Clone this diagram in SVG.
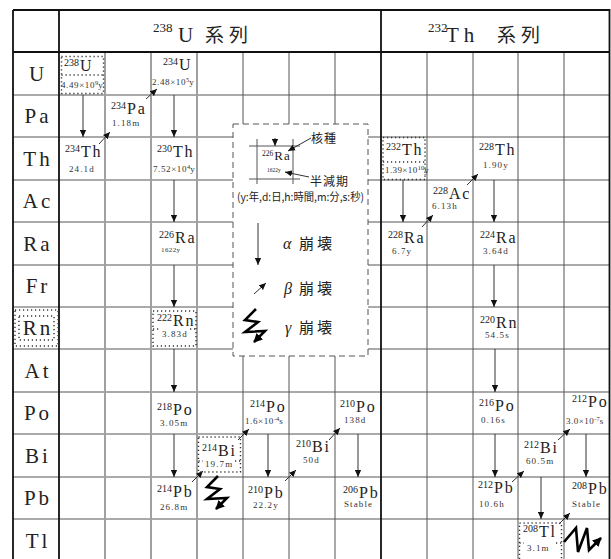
<svg xmlns="http://www.w3.org/2000/svg" width="611" height="559" viewBox="0 0 611 559">
<style>
text{font-family:"Liberation Serif","Noto Sans CJK JP",serif;fill:#222}
.cjk{font-family:"Noto Sans CJK JP","Noto Sans CJK SC",sans-serif}
.g1{stroke:#555;stroke-width:1;fill:none}
.g2{stroke:#a0a0a0;stroke-width:2;fill:none}
.bd{stroke:#111;stroke-width:1.8;fill:none}
.lab{font-size:21px;letter-spacing:3px;text-anchor:middle}
.nu{font-size:16px;letter-spacing:1.8px}
.ms{font-size:10px;letter-spacing:0}
.hl{font-size:9px;letter-spacing:1.1px;fill:#333}
.ex{font-size:6.5px;letter-spacing:0}
.dot{fill:none;stroke:#333;stroke-width:1.4;stroke-dasharray:1.2 2.8}
.ar{stroke:#333;stroke-width:1;fill:none;marker-end:url(#ah)}
.gm{stroke:#000;stroke-width:2.6;fill:none;stroke-linejoin:miter}
</style>
<defs>
<marker id="ah" viewBox="0 0 10 10" refX="10" refY="5" markerWidth="7" markerHeight="7" markerUnits="userSpaceOnUse" orient="auto"><path d="M0,0.5 L10,5 L0,9.5 z" fill="#111"/></marker>
<marker id="ahg" viewBox="0 0 10 10" refX="9" refY="5" markerWidth="9" markerHeight="9" markerUnits="userSpaceOnUse" orient="auto"><path d="M0,0 L10,5 L0,10 z" fill="#000"/></marker>
<g id="bolt"><polyline class="gm" points="11,0 0,11 13,13 0,23 20,22 9,33" marker-end="url(#ahg)"/></g>
</defs>
<rect width="611" height="559" fill="#fff"/>
<g id="grid">
<path class="g1" d="M59,95H609M59,137H609M59,180H609M59,222H609M59,265H609M59,307H609M59,349H609M59,392H609M59,434H609M59,477H609M59,519H609"/>
<path class="g1" d="M13,95H59M13,137H59M13,180H59M13,222H59M13,265H59M13,307H59M13,349H59M13,392H59M13,434H59M13,477H59M13,519H59"/>
<path class="g1" d="M243,52V562M289,52V562M335,52V562M427,52V562M473,52V562M518,52V562M564,52V562"/>
<path class="g2" d="M105,52V562M151,52V562M197,52V562"/>
<path class="bd" d="M13,10H609.5V562M13,10V562M59,10V562M381,10V562M13,52H609.5"/>
</g>
<g id="header">
<text x="153" y="32" style="font-size:13px">238</text>
<text x="178" y="42" style="font-size:21px">U</text>
<text x="205" y="42" class="cjk" style="font-size:19px;letter-spacing:5px">系列</text>
<text x="428" y="32" style="font-size:13px">232</text>
<text x="446" y="42" style="font-size:21px;letter-spacing:5px">Th</text>
<text x="497" y="42" class="cjk" style="font-size:19px;letter-spacing:5px">系列</text>
</g>
<g id="labels">
<text class="lab" x="38" y="81">U</text>
<text class="lab" x="38" y="123">Pa</text>
<text class="lab" x="38" y="166">Th</text>
<text class="lab" x="38" y="208">Ac</text>
<text class="lab" x="38" y="251">Ra</text>
<text class="lab" x="38" y="293">Fr</text>
<text class="lab" x="38" y="335">Rn</text>
<text class="lab" x="38" y="378">At</text>
<text class="lab" x="38" y="420">Po</text>
<text class="lab" x="38" y="463">Bi</text>
<text class="lab" x="38" y="505">Pb</text>
<text class="lab" x="38" y="548">Tl</text>
<rect class="dot" x="15" y="310" width="43" height="36"/>
<rect class="dot" x="19" y="316" width="35" height="24"/>
</g>
<g id="legend">
<rect x="233" y="124" width="135" height="232" fill="#fff" stroke="#555" stroke-width="1" stroke-dasharray="6 4"/>
<path class="g1" d="M249,146H300M249,179H300M257,139V184M293,139V184"/>
<line class="ar" x1="275" y1="138" x2="275" y2="146"/>
<text x="262" y="160"><tspan style="font-size:7.5px" dy="-4">226</tspan><tspan style="font-size:13px;letter-spacing:1px" dy="4" dx="1">Ra</tspan></text>
<text x="267" y="172" style="font-size:5.5px">1622y</text>
<text x="311" y="143" class="cjk" style="font-size:12px;letter-spacing:1px">核種</text>
<line class="ar" x1="311" y1="138" x2="288" y2="151"/>
<text x="310" y="186" class="cjk" style="font-size:12px;letter-spacing:1px">半減期</text>
<line class="ar" x1="309" y1="177" x2="285" y2="172"/>
<text x="237" y="201" class="cjk" style="font-size:11px" textLength="127" lengthAdjust="spacingAndGlyphs">(y:年,d:日,h:時間,m:分,s:秒)</text>
<line class="ar" x1="258" y1="223" x2="258" y2="265"/>
<text x="283" y="249" style="font-size:16px;font-style:italic">α</text>
<text x="299" y="249" class="cjk" style="font-size:15px;letter-spacing:3px">崩壊</text>
<line class="ar" x1="254" y1="294" x2="266" y2="283"/>
<text x="284" y="294" style="font-size:16px;font-style:italic">β</text>
<text x="299" y="294" class="cjk" style="font-size:15px;letter-spacing:3px">崩壊</text>
<use href="#bolt" x="245" y="309"/>
<text x="285" y="333" style="font-size:16px;font-style:italic">γ</text>
<text x="299" y="333" class="cjk" style="font-size:15px;letter-spacing:3px">崩壊</text>
</g>
<g id="connectors">
<line class="ar" x1="83" y1="95" x2="83" y2="137"/>
<line class="ar" x1="99" y1="144" x2="110" y2="132"/>
<line class="ar" x1="146" y1="99" x2="157" y2="89"/>
<line class="ar" x1="174" y1="95" x2="174" y2="137"/>
<line class="ar" x1="174" y1="180" x2="174" y2="222"/>
<line class="ar" x1="174" y1="265" x2="174" y2="307"/>
<line class="ar" x1="174" y1="349" x2="174" y2="392"/>
<line class="ar" x1="174" y1="434" x2="174" y2="477"/>
<line class="ar" x1="192" y1="482" x2="203" y2="471"/>
<line class="ar" x1="238" y1="440" x2="249" y2="429"/>
<line class="ar" x1="268" y1="434" x2="268" y2="477"/>
<line class="ar" x1="285" y1="481" x2="296" y2="470"/>
<line class="ar" x1="329" y1="440" x2="340" y2="428"/>
<line class="ar" x1="358" y1="434" x2="358" y2="477"/>
<line class="ar" x1="403" y1="180" x2="403" y2="222"/>
<line class="ar" x1="422" y1="227" x2="433" y2="215"/>
<line class="ar" x1="467" y1="185" x2="478" y2="174"/>
<line class="ar" x1="494" y1="180" x2="494" y2="222"/>
<line class="ar" x1="494" y1="265" x2="494" y2="307"/>
<line class="ar" x1="495" y1="349" x2="495" y2="392"/>
<line class="ar" x1="495" y1="434" x2="495" y2="477"/>
<line class="ar" x1="512" y1="482" x2="524" y2="471"/>
<line class="ar" x1="558" y1="440" x2="570" y2="429"/>
<line class="ar" x1="541" y1="477" x2="541" y2="519"/>
<line class="ar" x1="586" y1="434" x2="586" y2="477"/>
<line class="ar" x1="559" y1="524" x2="570" y2="513"/>
</g>
<g id="n-238U"><rect class="dot" x="61.5" y="56.5" width="42" height="37"/><line class="dot" x1="61.5" y1="75" x2="103.5" y2="75"/>
<text class="nu" x="64" y="71"><tspan class="ms" dy="-5">238</tspan><tspan dy="5" dx="1">U</tspan></text>
<text class="hl" x="61" y="88" style="letter-spacing:0.6px">4.49×10<tspan class="ex" dy="-3">9</tspan><tspan dy="3">y</tspan></text></g>
<g id="n-234U"><text class="nu" x="163" y="70"><tspan class="ms" dy="-5">234</tspan><tspan dy="5" dx="1">U</tspan></text>
<text class="hl" x="152" y="85" style="letter-spacing:0.6px">2.48×10<tspan class="ex" dy="-3">5</tspan><tspan dy="3">y</tspan></text></g>
<g id="n-234Pa"><text class="nu" x="111" y="114"><tspan class="ms" dy="-5">234</tspan><tspan dy="5" dx="1">Pa</tspan></text>
<text class="hl" x="112" y="126">1.18m</text></g>
<g id="n-234Th"><text class="nu" x="65" y="157"><tspan class="ms" dy="-5">234</tspan><tspan dy="5" dx="1">Th</tspan></text>
<text class="hl" x="69" y="172">24.1d</text></g>
<g id="n-230Th"><text class="nu" x="157" y="157"><tspan class="ms" dy="-5">230</tspan><tspan dy="5" dx="1">Th</tspan></text>
<text class="hl" x="153" y="172" style="letter-spacing:0.6px">7.52×10<tspan class="ex" dy="-3">4</tspan><tspan dy="3">y</tspan></text></g>
<g id="n-226Ra"><text class="nu" x="159" y="243"><tspan class="ms" dy="-5">226</tspan><tspan dy="5" dx="1">Ra</tspan></text>
<text class="hl" x="161" y="252" style="font-size:7px;letter-spacing:0.4px">1622y</text></g>
<g id="n-222Rn"><rect class="dot" x="153" y="311" width="43" height="35"/><path class="dot" d="M153,329H159M190,329H196"/>
<text class="nu" x="157" y="326"><tspan class="ms" dy="-5">222</tspan><tspan dy="5" dx="1">Rn</tspan></text>
<text class="hl" x="162" y="337">3.83d</text></g>
<g id="n-218Po"><text class="nu" x="157" y="415"><tspan class="ms" dy="-5">218</tspan><tspan dy="5" dx="1">Po</tspan></text>
<text class="hl" x="160" y="426">3.05m</text></g>
<g id="n-214Pb"><text class="nu" x="157" y="497"><tspan class="ms" dy="-5">214</tspan><tspan dy="5" dx="1">Pb</tspan></text>
<text class="hl" x="160" y="510">26.8m</text></g>
<g id="n-214Bi"><rect class="dot" x="198.5" y="437" width="42" height="35"/><path class="dot" d="M198.5,461H203M235,461H240.5"/>
<text class="nu" x="202" y="456"><tspan class="ms" dy="-5">214</tspan><tspan dy="5" dx="1">Bi</tspan></text>
<text class="hl" x="205" y="467">19.7m</text>
<use href="#bolt" x="207" y="476"/></g>
<g id="n-214Po"><text class="nu" x="250" y="412"><tspan class="ms" dy="-5">214</tspan><tspan dy="5" dx="1">Po</tspan></text>
<text class="hl" x="245" y="424" style="letter-spacing:0.6px">1.6×10<tspan class="ex" dy="-3">-4</tspan><tspan dy="3">s</tspan></text></g>
<g id="n-210Pb"><text class="nu" x="248" y="498"><tspan class="ms" dy="-5">210</tspan><tspan dy="5" dx="1">Pb</tspan></text>
<text class="hl" x="253" y="508">22.2y</text></g>
<g id="n-210Bi"><text class="nu" x="296" y="452"><tspan class="ms" dy="-5">210</tspan><tspan dy="5" dx="1">Bi</tspan></text>
<text class="hl" x="303" y="463">50d</text></g>
<g id="n-210Po"><text class="nu" x="340" y="412"><tspan class="ms" dy="-5">210</tspan><tspan dy="5" dx="1">Po</tspan></text>
<text class="hl" x="344" y="423">138d</text></g>
<g id="n-206Pb"><text class="nu" x="343" y="498"><tspan class="ms" dy="-5">206</tspan><tspan dy="5" dx="1">Pb</tspan></text>
<text class="hl" x="344" y="507">Stable</text></g>
<g id="n-232Th"><rect class="dot" x="383" y="137.5" width="42" height="42"/><line class="dot" x1="383" y1="162" x2="425" y2="162"/>
<text class="nu" x="386" y="155"><tspan class="ms" dy="-5">232</tspan><tspan dy="5" dx="1">Th</tspan></text>
<text class="hl" x="385" y="173" style="letter-spacing:0.4px">1.39×10<tspan class="ex" dy="-3">10</tspan><tspan dy="3">y</tspan></text></g>
<g id="n-228Th"><text class="nu" x="479" y="155"><tspan class="ms" dy="-5">228</tspan><tspan dy="5" dx="1">Th</tspan></text>
<text class="hl" x="483" y="168">1.90y</text></g>
<g id="n-228Ac"><text class="nu" x="433" y="199"><tspan class="ms" dy="-5">228</tspan><tspan dy="5" dx="1">Ac</tspan></text>
<text class="hl" x="432" y="209">6.13h</text></g>
<g id="n-228Ra"><text class="nu" x="388" y="243"><tspan class="ms" dy="-5">228</tspan><tspan dy="5" dx="1">Ra</tspan></text>
<text class="hl" x="392" y="254">6.7y</text></g>
<g id="n-224Ra"><text class="nu" x="480" y="243"><tspan class="ms" dy="-5">224</tspan><tspan dy="5" dx="1">Ra</tspan></text>
<text class="hl" x="483" y="254">3.64d</text></g>
<g id="n-220Rn"><text class="nu" x="480" y="328"><tspan class="ms" dy="-5">220</tspan><tspan dy="5" dx="1">Rn</tspan></text>
<text class="hl" x="485" y="338">54.5s</text></g>
<g id="n-216Po"><text class="nu" x="479" y="411"><tspan class="ms" dy="-5">216</tspan><tspan dy="5" dx="1">Po</tspan></text>
<text class="hl" x="481" y="423">0.16s</text></g>
<g id="n-212Pb"><text class="nu" x="478" y="493"><tspan class="ms" dy="-5">212</tspan><tspan dy="5" dx="1">Pb</tspan></text>
<text class="hl" x="479" y="507">10.6h</text></g>
<g id="n-212Bi"><text class="nu" x="524" y="453"><tspan class="ms" dy="-5">212</tspan><tspan dy="5" dx="1">Bi</tspan></text>
<text class="hl" x="526" y="464">60.5m</text></g>
<g id="n-212Po"><text class="nu" x="572" y="407"><tspan class="ms" dy="-5">212</tspan><tspan dy="5" dx="1">Po</tspan></text>
<text class="hl" x="566" y="424" style="letter-spacing:0.5px">3.0×10<tspan class="ex" dy="-3">-7</tspan><tspan dy="3">s</tspan></text></g>
<g id="n-208Pb"><text class="nu" x="572" y="494"><tspan class="ms" dy="-5">208</tspan><tspan dy="5" dx="1">Pb</tspan></text>
<text class="hl" x="572" y="507">Stable</text></g>
<g id="n-208Tl"><rect class="dot" x="519.5" y="523" width="42" height="38"/><path class="dot" d="M519.5,543H524M556,543H561.5"/>
<text class="nu" x="523" y="537"><tspan class="ms" dy="-5">208</tspan><tspan dy="5" dx="1">Tl</tspan></text>
<text class="hl" x="527" y="551">3.1m</text>
<polyline class="gm" points="564,542 576,528 578,552 587,528 589,550 601,538" marker-end="url(#ahg)"/></g>
</svg>
